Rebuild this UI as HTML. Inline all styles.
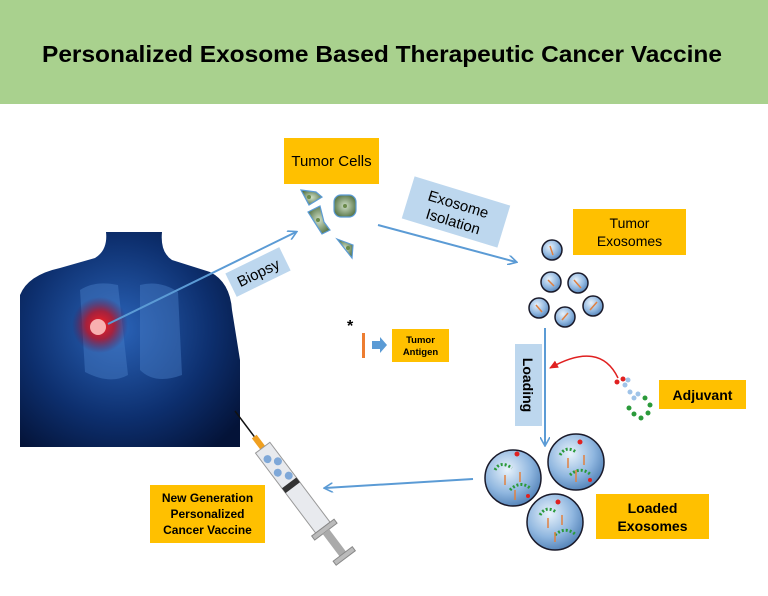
<!DOCTYPE html>
<html><head><meta charset="utf-8"><style>
html,body{margin:0;padding:0;background:#fff}
svg{display:block}
text{font-family:"Liberation Sans",Arial,sans-serif}
</style></head><body>
<svg width="768" height="596" viewBox="0 0 768 596" xmlns="http://www.w3.org/2000/svg">
<defs>
<radialGradient id="body" cx="0.45" cy="0.45" r="0.7">
<stop offset="0" stop-color="#2a63b8"/><stop offset="0.6" stop-color="#0d2f6e"/><stop offset="1" stop-color="#041338"/>
</radialGradient>
<radialGradient id="tum" cx="0.5" cy="0.5" r="0.5">
<stop offset="0" stop-color="#ff2020"/><stop offset="0.5" stop-color="#c01020" stop-opacity="0.8"/><stop offset="1" stop-color="#601040" stop-opacity="0"/>
</radialGradient>
<radialGradient id="exo" cx="0.4" cy="0.35" r="0.7">
<stop offset="0" stop-color="#e8f2fb"/><stop offset="0.6" stop-color="#8fb6df"/><stop offset="1" stop-color="#4f7fb5"/>
</radialGradient>
<radialGradient id="cell" cx="0.5" cy="0.5" r="0.6">
<stop offset="0" stop-color="#d0e0c8"/><stop offset="1" stop-color="#4a6a3a"/>
</radialGradient>
<marker id="ah" markerWidth="10" markerHeight="10" refX="8" refY="5" orient="auto" markerUnits="userSpaceOnUse">
<path d="M0,0 L9,5 L0,10" fill="none" stroke="#5b9bd5" stroke-width="1.6"/>
</marker>
<marker id="ahr" markerWidth="10" markerHeight="10" refX="8" refY="5" orient="auto" markerUnits="userSpaceOnUse">
<path d="M0,1 L9,5 L0,9 z" fill="#e02020"/>
</marker>
</defs>
<rect x="0" y="0" width="768" height="104" fill="#a9d18e"/>
<text x="42" y="62" font-size="23" font-weight="bold" textLength="680" lengthAdjust="spacingAndGlyphs">Personalized Exosome Based Therapeutic Cancer Vaccine</text>

<!-- body -->
<g>
<path d="M20,447 L20,295 Q28,275 60,268 L95,258 Q108,250 106,232 L162,232 Q160,252 172,260 L210,272 Q230,282 232,310 L240,360 L240,447 Z" fill="url(#body)"/>
<path d="M80,290 Q95,280 118,285 L128,375 Q110,385 85,372 Z" fill="#4a7fc8" opacity="0.45"/>
<path d="M140,285 Q160,280 178,292 L182,375 Q155,385 140,370 Z" fill="#4a7fc8" opacity="0.45"/>
<circle cx="100" cy="325" r="28" fill="url(#tum)"/>
<circle cx="98" cy="327" r="8" fill="#f8b0b0"/>
</g>

<!-- Biopsy arrow -->
<line x1="108" y1="324" x2="296" y2="232" stroke="#5b9bd5" stroke-width="2" marker-end="url(#ah)"/>
<g transform="translate(258,272) rotate(-26)">
<rect x="-30" y="-13" width="60" height="26" fill="#bdd7ee"/>
<text x="0" y="6" font-size="15" text-anchor="middle">Biopsy</text>
</g>

<!-- Tumor Cells -->
<rect x="284" y="138" width="95" height="46" fill="#ffc000"/>
<text x="331.5" y="166" font-size="15" text-anchor="middle">Tumor Cells</text>
<g stroke="#5b9bd5" stroke-width="1.2" fill="url(#cell)">
<path d="M301,190 L316,192 L322,197 L309,205 Z"/>
<rect x="334" y="195" width="22" height="22" rx="7"/>
<path d="M308,212 L320,206 L324,222 L330,230 L322,234 Z"/>
<path d="M337,239 L353,245 L352,258 Z"/>
</g>
<g fill="#6a8a4a"><circle cx="309" cy="197" r="2"/><circle cx="345" cy="206" r="2"/><circle cx="318" cy="220" r="2"/><circle cx="348" cy="248" r="2"/></g>

<!-- Exosome Isolation -->
<line x1="378" y1="225" x2="516" y2="262" stroke="#5b9bd5" stroke-width="2" marker-end="url(#ah)"/>
<g transform="translate(456,212) rotate(17)">
<rect x="-50" y="-22" width="100" height="44" fill="#bdd7ee"/>
<text x="0" y="-3" font-size="15" text-anchor="middle">Exosome</text>
<text x="0" y="15" font-size="15" text-anchor="middle">Isolation</text>
</g>

<!-- Tumor Exosomes -->
<rect x="573" y="209" width="113" height="46" fill="#ffc000"/>
<text x="629.5" y="228" font-size="14" text-anchor="middle">Tumor</text>
<text x="629.5" y="246" font-size="14" text-anchor="middle">Exosomes</text>
<g stroke="#1a1a2a" stroke-width="1.5" fill="url(#exo)">
<circle cx="552" cy="250" r="10"/><circle cx="551" cy="282" r="10"/><circle cx="578" cy="283" r="10"/>
<circle cx="539" cy="308" r="10"/><circle cx="565" cy="317" r="10"/><circle cx="593" cy="306" r="10"/>
</g>
<g stroke="#e08040" stroke-width="1.5">
<line x1="550" y1="246" x2="553" y2="255"/><line x1="548" y1="280" x2="554" y2="286"/><line x1="574" y1="280" x2="581" y2="288"/>
<line x1="536" y1="305" x2="542" y2="312"/><line x1="562" y1="320" x2="568" y2="313"/><line x1="590" y1="310" x2="597" y2="302"/>
</g>

<!-- Loading -->
<line x1="545" y1="328" x2="545" y2="445" stroke="#5b9bd5" stroke-width="2" marker-end="url(#ah)"/>
<rect x="515" y="344" width="27" height="82" fill="#bdd7ee"/>
<text transform="translate(523,385) rotate(90)" font-size="14" font-weight="bold" text-anchor="middle">Loading</text>

<!-- Adjuvant -->
<path d="M618,378 Q600,340 550,368" fill="none" stroke="#e02020" stroke-width="1.5" marker-end="url(#ahr)"/>
<g fill="#9fc3e8"><circle cx="625" cy="385" r="2.5"/><circle cx="630" cy="392" r="2.5"/><circle cx="634" cy="398" r="2.5"/><circle cx="638" cy="394" r="2.5"/><circle cx="628" cy="380" r="2.5"/></g>
<g fill="#e02020"><circle cx="617" cy="382" r="2.5"/><circle cx="623" cy="379" r="2.5"/></g>
<g fill="#2a9a3a"><circle cx="645" cy="398" r="2.5"/><circle cx="650" cy="405" r="2.5"/><circle cx="648" cy="413" r="2.5"/><circle cx="641" cy="418" r="2.5"/><circle cx="634" cy="414" r="2.5"/><circle cx="629" cy="408" r="2.5"/></g>
<rect x="659" y="380" width="87" height="29" fill="#ffc000"/>
<text x="702.5" y="400" font-size="14" font-weight="bold" text-anchor="middle">Adjuvant</text>

<!-- Loaded exosomes -->
<g stroke="#1a1a2a" stroke-width="1.5" fill="url(#exo)">
<circle cx="513" cy="478" r="28"/><circle cx="576" cy="462" r="28"/><circle cx="555" cy="522" r="28"/>
</g>
<g fill="none" stroke="#2a9a3a" stroke-width="3" stroke-dasharray="2 2">
<path d="M495,470 Q500,460 512,468"/><path d="M510,490 Q520,480 530,488"/>
<path d="M560,455 Q566,445 576,452"/><path d="M570,475 Q580,466 590,474"/>
<path d="M540,515 Q546,505 556,512"/><path d="M555,535 Q565,526 575,534"/>
</g>
<g stroke="#e08040" stroke-width="1.5">
<line x1="505" y1="475" x2="505" y2="485"/><line x1="520" y1="472" x2="520" y2="482"/><line x1="515" y1="490" x2="515" y2="500"/>
<line x1="568" y1="458" x2="568" y2="468"/><line x1="584" y1="455" x2="584" y2="465"/><line x1="576" y1="470" x2="576" y2="482"/>
<line x1="548" y1="518" x2="548" y2="528"/><line x1="562" y1="515" x2="562" y2="525"/><line x1="555" y1="532" x2="555" y2="542"/>
</g>
<g fill="#e02020"><circle cx="517" cy="454" r="2.5"/><circle cx="580" cy="442" r="2.5"/><circle cx="558" cy="502" r="2.5"/><circle cx="528" cy="496" r="2"/><circle cx="590" cy="480" r="2"/></g>
<rect x="596" y="494" width="113" height="45" fill="#ffc000"/>
<text x="652.5" y="513" font-size="14" font-weight="bold" text-anchor="middle">Loaded</text>
<text x="652.5" y="531" font-size="14" font-weight="bold" text-anchor="middle">Exosomes</text>

<!-- arrow to syringe -->
<line x1="473" y1="479" x2="325" y2="488" stroke="#5b9bd5" stroke-width="2" marker-end="url(#ah)"/>

<!-- syringe -->
<g transform="translate(235,411) rotate(-37)">
<line x1="0" y1="0" x2="0" y2="32" stroke="#111" stroke-width="1.5"/>
<rect x="-3" y="32" width="6" height="14" fill="#f0a020"/>
<rect x="-9" y="46" width="18" height="100" fill="#e8eaee" stroke="#999"/>
<rect x="-9" y="90" width="18" height="6" fill="#333"/>
<g fill="#7fa8d8"><circle cx="-3" cy="58" r="4"/><circle cx="4" cy="66" r="4"/><circle cx="-3" cy="75" r="4"/><circle cx="4" cy="84" r="4"/></g>
<rect x="-14" y="146" width="28" height="5" fill="#bbb" stroke="#888"/>
<rect x="-4" y="151" width="8" height="28" fill="#aaa"/>
<rect x="-12" y="179" width="24" height="5" fill="#bbb" stroke="#888"/>
</g>
<rect x="150" y="485" width="115" height="58" fill="#ffc000"/>
<text x="207.5" y="502" font-size="12" font-weight="bold" text-anchor="middle">New Generation</text>
<text x="207.5" y="518" font-size="12" font-weight="bold" text-anchor="middle">Personalized</text>
<text x="207.5" y="534" font-size="12" font-weight="bold" text-anchor="middle">Cancer Vaccine</text>

<!-- tumor antigen -->
<text x="347" y="331" font-size="16" font-weight="bold">*</text>
<rect x="362" y="333" width="3" height="25" fill="#ed7d31"/>
<path d="M372,341 L380,341 L380,337 L387,345 L380,353 L380,349 L372,349 Z" fill="#5b9bd5"/>
<rect x="392" y="329" width="57" height="33" fill="#ffc000"/>
<text x="420.5" y="343" font-size="9.5" font-weight="bold" text-anchor="middle">Tumor</text>
<text x="420.5" y="355" font-size="9.5" font-weight="bold" text-anchor="middle">Antigen</text>
</svg>
</body></html>
